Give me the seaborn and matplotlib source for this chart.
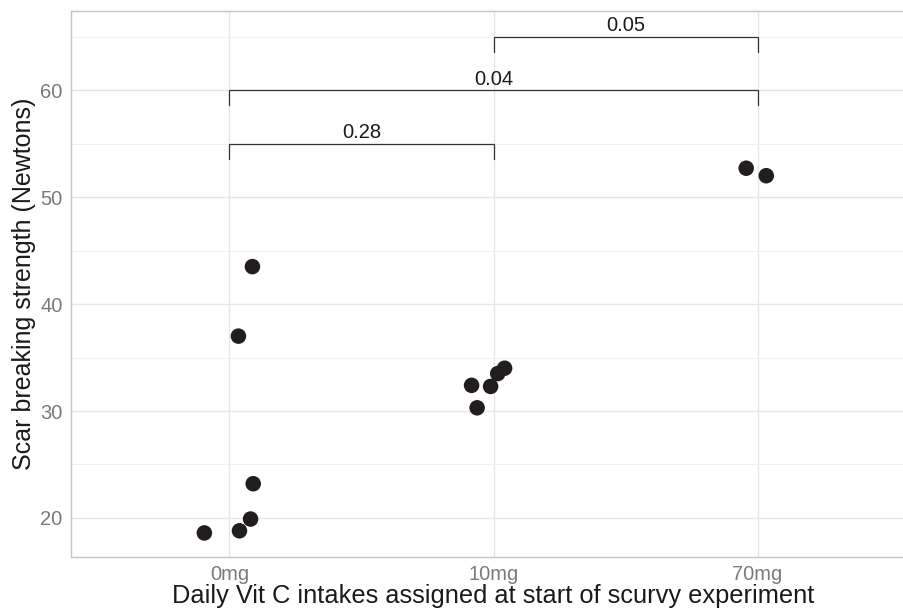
import matplotlib
matplotlib.use("Agg")
import matplotlib.pyplot as plt
import seaborn as sns
import numpy as np
import pandas as pd

# Data
groups = ["0mg", "10mg", "70mg"]
dose = ["0mg"] * 6 + ["10mg"] * 5 + ["70mg"] * 2
strength = [18.6, 18.8, 19.9, 23.2, 37.0, 43.5,
            30.3, 32.4, 32.3, 33.5, 34.0,
            52.7, 52.0]
jitter = [-0.095, 0.038, 0.08, 0.09, 0.034, 0.087,
          -0.062, -0.083, -0.011, 0.016, 0.042,
          -0.043, 0.033]

# significance brackets: (group a, group b, y, label)
bracket_a = ["0mg", "0mg", "10mg"]
bracket_b = ["10mg", "70mg", "70mg"]
bracket_y = [55.0, 60.0, 65.0]
bracket_lab = ["0.28", "0.04", "0.05"]

df = pd.DataFrame({"dose": dose, "strength": strength, "jit": jitter})
df["xpos"] = df["dose"].map({g: i for i, g in enumerate(groups)}) + df["jit"]

sns.set_theme(style="whitegrid")
plt.rcParams["font.family"] = ["Liberation Sans", "DejaVu Sans"]

W, H = 904, 610
fig = plt.figure(figsize=(W / 100, H / 100), dpi=100)
left_px, right_px, top_px, bot_px = 71, 916, 11, 557
ax = fig.add_axes([left_px / W, 1 - bot_px / H, (right_px - left_px) / W, (bot_px - top_px) / H])

sns.scatterplot(data=df, x="xpos", y="strength", ax=ax, s=125, color="#221e1f",
                edgecolor="none", linewidth=0, zorder=3, legend=False)

ax.set_xlim(-0.6, 2.6)
ax.set_ylim(16.35, 67.4)
ax.set_xticks(range(len(groups)))
ax.set_xticklabels(groups)
ax.set_yticks([20, 30, 40, 50, 60])
ax.set_yticks([25, 35, 45, 55, 65], minor=True)

ax.grid(True, which="major", color="#e6e6e6", linewidth=1.0)
ax.grid(True, which="minor", axis="y", color="#f0f0f0", linewidth=0.8)
ax.set_axisbelow(True)
ax.set_facecolor("white")
for sp in ax.spines.values():
    sp.set_color("#c4c4c4")
    sp.set_linewidth(1.0)
ax.spines["right"].set_visible(False)

ax.tick_params(axis="both", which="major", length=4, width=0.8, color="#c4c4c4",
               labelsize=14.5, labelcolor="#7a7a7a", pad=2)
ax.tick_params(axis="both", which="minor", length=0)

ax.set_xlabel("Daily Vit C intakes assigned at start of scurvy experiment",
              fontsize=18.3, color="#1a1a1a", labelpad=0)
ax.set_ylabel("Scar breaking strength (Newtons)", fontsize=18, color="#1a1a1a", labelpad=3)

pos = {g: i for i, g in enumerate(groups)}
for a, b, y, lab in zip(bracket_a, bracket_b, bracket_y, bracket_lab):
    xa, xb = pos[a], pos[b]
    ax.plot([xa, xa, xb, xb], [y - 1.4, y, y, y - 1.4], color="#333333", linewidth=0.9,
            zorder=4, solid_joinstyle="miter")
    ax.text((xa + xb) / 2, y + 0.5, lab, ha="center", va="baseline", fontsize=14.5,
            color="#1a1a1a")

fig.savefig("out.png", dpi=100)
